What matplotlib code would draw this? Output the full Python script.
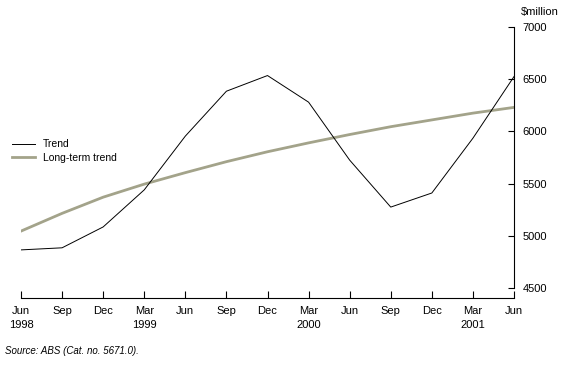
import matplotlib.pyplot as plt
import numpy as np

plt.rcParams['font.family'] = ['Liberation Sans', 'DejaVu Sans']

quarters = ['Jun', 'Sep', 'Dec', 'Mar', 'Jun', 'Sep', 'Dec', 'Mar', 'Jun', 'Sep', 'Dec', 'Mar', 'Jun']
years = ['1998', '', '', '1999', '', '', '', '2000', '', '', '', '2001', '']
trend = [4865, 4885, 5085, 5440, 5955, 6385, 6535, 6280, 5725, 5275, 5410, 5935, 6525]
longterm = [5045, 5215, 5370, 5495, 5605, 5710, 5805, 5890, 5970, 6045, 6110, 6175, 6230]

fig = plt.figure(figsize=(5.67, 3.78), dpi=100)
ax = fig.add_axes([21/567, 1 - 288/378, (514 - 21)/567, (288 - 27)/378])

x = np.arange(len(quarters))
ax.plot(x, longterm, color='#a3a38a', lw=2.0, label='Long-term trend', zorder=2)
ax.plot(x, trend, color='black', lw=0.7, label='Trend', zorder=3)

ax.set_xlim(0, len(quarters) - 1)
ax.set_ylim(4500, 7000)

# right-hand value axis
ax.yaxis.tick_right()
ax.set_yticks(np.arange(4500, 7001, 500))
ax.tick_params(axis='y', direction='in', length=4, width=0.8, labelsize=8, pad=6)
ax.spines['left'].set_visible(False)
ax.spines['top'].set_visible(False)
ax.spines['right'].set_linewidth(0.8)

# time axis sits a little below the plotting area
ax.spines['bottom'].set_position(('outward', 7))
ax.spines['bottom'].set_linewidth(0.8)
ax.set_xticks(x)
ax.set_xticklabels([q + '\n' + y for q, y in zip(quarters, years)], linespacing=1.5)
ax.tick_params(axis='x', direction='in', length=5, width=0.8, labelsize=8, pad=6)

fig.text(540/567, 1 - 12/378, '$million', fontsize=8, ha='center', va='center')

handles, labels = ax.get_legend_handles_labels()
ax.legend(handles[::-1], labels[::-1], loc='upper left',
          bbox_to_anchor=(-0.027, 0.585), frameon=False, fontsize=7.5,
          handlelength=2.2, handletextpad=0.8, labelspacing=0.3, borderaxespad=0)

fig.text(5/567, 1 - 351/378, 'Source: ABS (Cat. no. 5671.0).', fontsize=7, style='italic',
         va='center')

fig.savefig('out.png', dpi=100)
